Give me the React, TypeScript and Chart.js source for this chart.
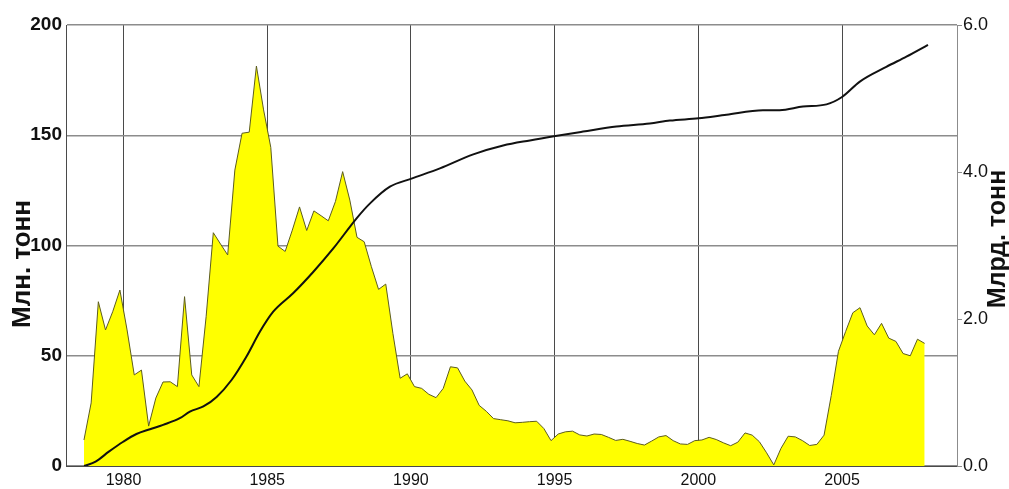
import React, { useEffect, useRef } from "react";
import { Chart, registerables } from "chart.js";

Chart.register(...registerables);

// Quarterly series (first quarter plotted at FIRST_QUARTER, one point per quarter)
const FIRST_QUARTER = 1978.625;
const QUARTER_STEP = 0.25;

// Quarterly volume, млн. тонн (left axis)
const quarterlyMln = [
  11.8, 28.6, 74.5, 61.7, 70, 79.8, 61.7, 41.3, 43.5, 18.1,
  30.8, 38.1, 38.2, 36, 76.8, 41.3, 36, 67.7, 105.8, 100.7,
  95.7, 134.2, 150.9, 151.4, 181.4, 161.5, 144.5, 99.7, 97.3, 107,
  117.5, 106.8, 115.7, 113.5, 111.2, 120, 133.5, 120.6, 103.7, 101.7,
  90.4, 80.1, 82.5, 60, 39.8, 41.8, 36, 35.2, 32.5, 31,
  35.2, 45, 44.5, 38.5, 34.5, 27.5, 24.8, 21.5, 21, 20.5,
  19.6, 19.8, 20.1, 20.3, 17, 11.5, 14.5, 15.5, 15.8, 14.1,
  13.6, 14.5, 14.3, 13, 11.6, 12.1, 11.2, 10.2, 9.5, 11.3,
  13.2, 13.8, 11.5, 10, 9.8, 11.5, 11.8, 13, 12, 10.5,
  9.2, 10.8, 15, 14, 11, 6, 0.5, 8, 13.5, 13.2,
  11.5, 9.3, 9.8, 14, 32, 52, 61, 69.5, 71.8, 63.5,
  59.5, 64.7, 58, 56.5, 51, 50, 57.5, 55.6,
];

// Cumulative total, млрд. тонн (right axis)
const cumYears = [
  1978.63, 1979.03, 1979.49, 1979.99, 1980.45, 1980.92, 1981.38, 1981.96,
  1982.31, 1982.78, 1983.24, 1983.76, 1984.28, 1984.75, 1985.21, 1985.9,
  1986.6, 1987.3, 1988.11, 1988.57, 1989.27, 1990.02, 1991.01, 1992.17,
  1993.21, 1994.14, 1995.03, 1995.99, 1997.15, 1998.31, 1999.01, 2000.01,
  2000.98, 2002.25, 2002.83, 2003.64, 2004.46, 2005.0, 2005.62, 2006.54,
  2007.24, 2007.99,
];
const cumBln = [
  0, 0.06, 0.195, 0.33, 0.435, 0.5, 0.56, 0.65,
  0.74, 0.81, 0.94, 1.17, 1.49, 1.83, 2.1, 2.35,
  2.64, 2.96, 3.37, 3.57, 3.8, 3.91, 4.05, 4.24,
  4.36, 4.43, 4.49, 4.55, 4.62, 4.66, 4.7, 4.73,
  4.78, 4.84, 4.84, 4.89, 4.92, 5.02, 5.23, 5.43,
  5.57, 5.73,
];

const xTickYears = [1980, 1985, 1990, 1995, 2000, 2005];
const X_MIN = 1978;
const X_MAX = 2009;
const LEFT_MAX = 200;
const LEFT_STEP = 50;
const RIGHT_MAX = 6;
const RIGHT_STEP = 2;
const leftTitle = "Млн. тонн";
const rightTitle = "Млрд. тонн";

const FONT = '"Liberation Sans", Arial, Helvetica, sans-serif';

const axisTitlesPlugin = {
  id: "axisTitles",
  afterDraw(chart: any) {
    const ctx = chart.ctx;
    ctx.save();
    ctx.fillStyle = "#111";
    ctx.textAlign = "center";
    ctx.textBaseline = "middle";
    ctx.font = `bold 26px ${FONT}`;
    ctx.save();
    ctx.translate(23, 264);
    ctx.rotate(-Math.PI / 2);
    ctx.fillText(leftTitle, 0, 0);
    ctx.restore();
    ctx.font = `bold 25px ${FONT}`;
    ctx.save();
    ctx.translate(998, 239);
    ctx.rotate(-Math.PI / 2);
    ctx.fillText(rightTitle, 0, 0);
    ctx.restore();
    ctx.restore();
  },
};

export default function App() {
  const canvasRef = useRef<HTMLCanvasElement | null>(null);

  useEffect(() => {
    document.body.style.margin = "0";
    const canvas = canvasRef.current;
    if (!canvas) return;

    const areaData = quarterlyMln.map((v, i) => ({ x: FIRST_QUARTER + i * QUARTER_STEP, y: v }));
    const lineData = cumYears.map((x, i) => ({ x, y: cumBln[i] }));

    const chart = new Chart(canvas, {
      type: "line",
      data: {
        datasets: [
          {
            label: rightTitle,
            data: lineData,
            yAxisID: "y2",
            borderColor: "#111111",
            borderWidth: 2,
            pointRadius: 0,
            fill: false,
            cubicInterpolationMode: "monotone",
            order: 0,
          },
          {
            label: leftTitle,
            data: areaData,
            yAxisID: "y",
            borderColor: "#5c5c1e",
            backgroundColor: "#ffff00",
            borderWidth: 1,
            pointRadius: 0,
            fill: "origin",
            tension: 0,
            order: 1,
          },
        ],
      },
      options: {
        responsive: false,
        animation: false,
        devicePixelRatio: 1,
        layout: { padding: { top: 25, left: 0, right: 0, bottom: 0 } },
        plugins: {
          legend: { display: false },
          tooltip: { enabled: false },
          title: { display: false },
        },
        scales: {
          x: {
            type: "linear",
            min: X_MIN,
            max: X_MAX,
            afterBuildTicks: (s: any) => {
              s.ticks = xTickYears.map((v) => ({ value: v }));
            },
            afterFit: (s: any) => {
              s.height = 23;
            },
            grid: { color: "#4a4a4a", lineWidth: 1, drawTicks: false },
            border: { display: true, color: "#4a4a4a", width: 1 },
            ticks: {
              color: "#111",
              font: { family: FONT, size: 16 },
              padding: 5,
              maxRotation: 0,
              callback: (v: any) => String(v),
            },
          },
          y: {
            type: "linear",
            position: "left",
            min: 0,
            max: LEFT_MAX,
            afterFit: (s: any) => {
              s.width = 66;
            },
            grid: { color: "#8c8c8c", lineWidth: 1.5, drawTicks: false },
            border: { display: true, color: "#4a4a4a", width: 1 },
            ticks: {
              stepSize: LEFT_STEP,
              color: "#111",
              font: { family: FONT, size: 19, weight: "bold" },
              padding: 4,
            },
          },
          y2: {
            type: "linear",
            position: "right",
            min: 0,
            max: RIGHT_MAX,
            afterFit: (s: any) => {
              s.width = 52;
            },
            grid: { drawOnChartArea: false, drawTicks: true, tickLength: 5, color: "#8c8c8c" },
            border: { display: true, color: "#8c8c8c", width: 1 },
            ticks: {
              stepSize: RIGHT_STEP,
              color: "#111",
              font: { family: FONT, size: 18 },
              padding: 1,
              callback: (v: any) => Number(v).toFixed(1),
            },
          },
        },
      },
      plugins: [axisTitlesPlugin],
    });

    return () => {
      chart.destroy();
    };
  }, []);

  return (
    <div style={{ width: 1009, height: 489, background: "#fff" }}>
      <canvas ref={canvasRef} width={1009} height={489} style={{ display: "block" }} />
    </div>
  );
}
